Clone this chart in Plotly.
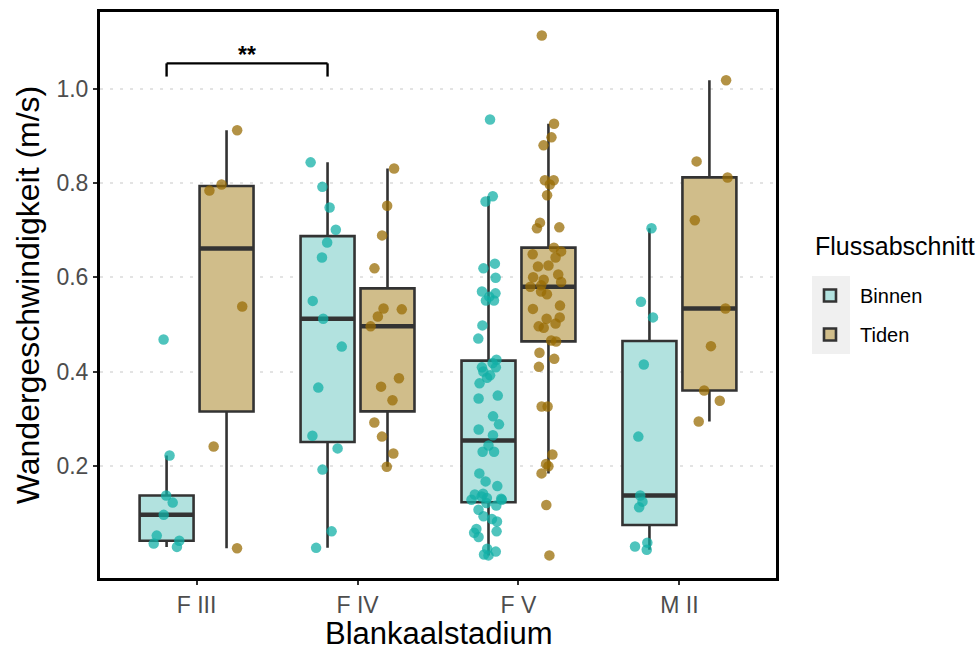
import numpy as np
import plotly.graph_objects as go

# Migration speed (m/s) per silver-eel stage and river section
stages = ["F III", "F IV", "F V", "M II"]

binnen_f3 = [0.468, 0.222, 0.137, 0.122, 0.096, 0.052, 0.041, 0.035, 0.028]
binnen_f4 = [0.844, 0.792, 0.748, 0.701, 0.674, 0.642, 0.550, 0.512, 0.453,
             0.366, 0.264, 0.237, 0.192, 0.061, 0.026]
binnen_f5 = [0.935, 0.772, 0.761, 0.629, 0.619, 0.599, 0.570, 0.566, 0.559,
             0.551, 0.551, 0.498, 0.470, 0.425, 0.418, 0.409, 0.409, 0.400,
             0.392, 0.387, 0.375, 0.349, 0.343, 0.305, 0.288, 0.277, 0.265,
             0.243, 0.230, 0.230, 0.184, 0.167, 0.157, 0.141, 0.139, 0.135,
             0.132, 0.130, 0.128, 0.128, 0.121, 0.116, 0.107, 0.093, 0.087,
             0.082, 0.066, 0.061, 0.058, 0.049, 0.024, 0.018, 0.012, 0.010]
binnen_m2 = [0.704, 0.548, 0.515, 0.415, 0.262, 0.137, 0.124, 0.112, 0.037,
             0.029, 0.022]

tiden_f3 = [0.912, 0.797, 0.784, 0.538, 0.241, 0.025]
tiden_f4 = [0.831, 0.752, 0.689, 0.619, 0.534, 0.532, 0.517, 0.496, 0.386,
            0.368, 0.339, 0.292, 0.262, 0.226, 0.198]
tiden_f5 = [1.113, 0.926, 0.897, 0.880, 0.806, 0.806, 0.797, 0.774, 0.716,
            0.706, 0.704, 0.663, 0.655, 0.649, 0.642, 0.625, 0.623, 0.606,
            0.600, 0.595, 0.590, 0.583, 0.580, 0.570, 0.564, 0.540, 0.533,
            0.515, 0.512, 0.502, 0.496, 0.493, 0.466, 0.464, 0.440, 0.427,
            0.410, 0.326, 0.326, 0.224, 0.204, 0.199, 0.184, 0.117, 0.010]
tiden_m2 = [1.018, 0.846, 0.812, 0.721, 0.534, 0.454, 0.360, 0.338, 0.294]

# significance bracket between F III and F IV (Binnen)
bracket_low = 1.026
bracket_high = 1.054
bracket_label = "**"
bracket_label_y = 1.072

y_ticks = [0.2, 0.4, 0.6, 0.8, 1.0]
y_range = [-0.038, 1.163]

sections = {
    "Binnen": dict(data=[binnen_f3, binnen_f4, binnen_f5, binnen_m2],
                   fill="#b2e2df", point="rgba(18,176,166,0.74)"),
    "Tiden": dict(data=[tiden_f3, tiden_f4, tiden_f5, tiden_m2],
                  fill="#d0bd8a", point="rgba(152,108,4,0.74)"),
}

box_line = "#333333"
font_family = "Liberation Sans, Arial, sans-serif"
box_gap = 0.255
box_group_gap = 0.1


def box_stats(values):
    v = np.asarray(values, dtype=float)
    q1, med, q3 = np.percentile(v, [25, 50, 75])
    iqr = q3 - q1
    lo = v[v >= q1 - 1.5 * iqr].min()
    hi = v[v <= q3 + 1.5 * iqr].max()
    return q1, med, q3, lo, hi


fig = go.Figure()

# boxes (whiskers to 1.5 IQR, quantiles of type 7)
for name, s in sections.items():
    stats = [box_stats(d) for d in s["data"]]
    fig.add_trace(go.Box(
        name=name, x=stages, offsetgroup=name, legendgroup=name,
        q1=[st[0] for st in stats], median=[st[1] for st in stats],
        q3=[st[2] for st in stats], lowerfence=[st[3] for st in stats],
        upperfence=[st[4] for st in stats],
        fillcolor=s["fill"], line=dict(color=box_line, width=2.6),
        whiskerwidth=0, boxpoints=False, showlegend=True,
    ))

# thicker median bars
for name, s in sections.items():
    meds = [box_stats(d)[1] for d in s["data"]]
    fig.add_trace(go.Box(
        name=name, x=stages, offsetgroup=name, legendgroup=name,
        q1=meds, median=meds, q3=meds, lowerfence=meds, upperfence=meds,
        fillcolor="rgba(0,0,0,0)", line=dict(color=box_line, width=4.5),
        whiskerwidth=0, boxpoints=False, showlegend=False, hoverinfo="skip",
    ))

# jittered observations on top of the boxes
for name, s in sections.items():
    xs, ys = [], []
    for stage, d in zip(stages, s["data"]):
        xs += [stage] * len(d)
        ys += list(d)
    fig.add_trace(go.Box(
        name=name, x=xs, y=ys, offsetgroup=name, legendgroup=name,
        boxpoints="all", jitter=0.75, pointpos=0,
        fillcolor="rgba(0,0,0,0)", line=dict(color="rgba(0,0,0,0)", width=0),
        whiskerwidth=0,
        marker=dict(color=s["point"], size=10.5, line=dict(width=0)),
        showlegend=False,
    ))

# bracket drawn at the centres of the two Binnen boxes
off = (1 - box_gap) / 4
xa, xb = 0 - off, 1 - off
for x0, y0, x1, y1 in [(xa, bracket_low, xa, bracket_high),
                       (xa, bracket_high, xb, bracket_high),
                       (xb, bracket_high, xb, bracket_low)]:
    fig.add_shape(type="line", xref="x", yref="y", x0=x0, y0=y0, x1=x1, y1=y1,
                  line=dict(color="black", width=2.4))
fig.add_annotation(x=(xa + xb) / 2, y=bracket_label_y, xref="x", yref="y",
                   text="<b>" + bracket_label + "</b>", showarrow=False,
                   font=dict(family=font_family, size=23, color="black"))

# x-axis title placed at the bottom edge of the figure
fig.add_annotation(x=0.5, y=-0.1325, xref="paper", yref="paper",
                   xanchor="center", yanchor="bottom", text="Blankaalstadium",
                   showarrow=False,
                   font=dict(family=font_family, size=31, color="black"))

# legend: title as a text block, grey panel behind the keys
fig.add_annotation(x=1.0547, y=0.5866, xref="paper", yref="paper",
                   xanchor="left", yanchor="middle", text="Flussabschnitt",
                   showarrow=False,
                   font=dict(family=font_family, size=25, color="black"))
fig.add_shape(type="rect", xref="paper", yref="paper", layer="below",
              x0=1.0533, x1=1.1095, y0=0.3958, y1=0.5336,
              fillcolor="#f0f0f0", line=dict(width=0))

axis_common = dict(showline=True, linecolor="black", linewidth=3, mirror=True,
                   ticks="outside", ticklen=4, tickwidth=1.5, tickcolor="#333333",
                   tickfont=dict(family=font_family, size=23, color="#4d4d4d"),
                   zeroline=False)

fig.update_layout(
    width=979, height=653,
    margin=dict(l=100, r=203, t=12, b=75, autoexpand=False),
    plot_bgcolor="white", paper_bgcolor="white",
    boxmode="group", boxgap=box_gap, boxgroupgap=box_group_gap,
    font=dict(family=font_family, color="black"),
    xaxis=dict(**axis_common, type="category", categoryorder="array",
               categoryarray=stages, range=[-0.6, 3.6], showgrid=False),
    yaxis=dict(**axis_common, range=y_range, tickvals=y_ticks, tickformat=".1f",
               showgrid=True, gridcolor="#e3e3e3", gridwidth=2,
               griddash="3px,7px",
               title=dict(text="Wandergeschwindigkeit (m/s)",
                          font=dict(family=font_family, size=32, color="black"),
                          standoff=8)),
    legend=dict(font=dict(family=font_family, size=20, color="black"),
                x=1.0355, xanchor="left", y=0.5336, yanchor="top",
                itemwidth=50, tracegroupgap=10, bgcolor="rgba(0,0,0,0)"),
)

fig.write_html("out.html")
